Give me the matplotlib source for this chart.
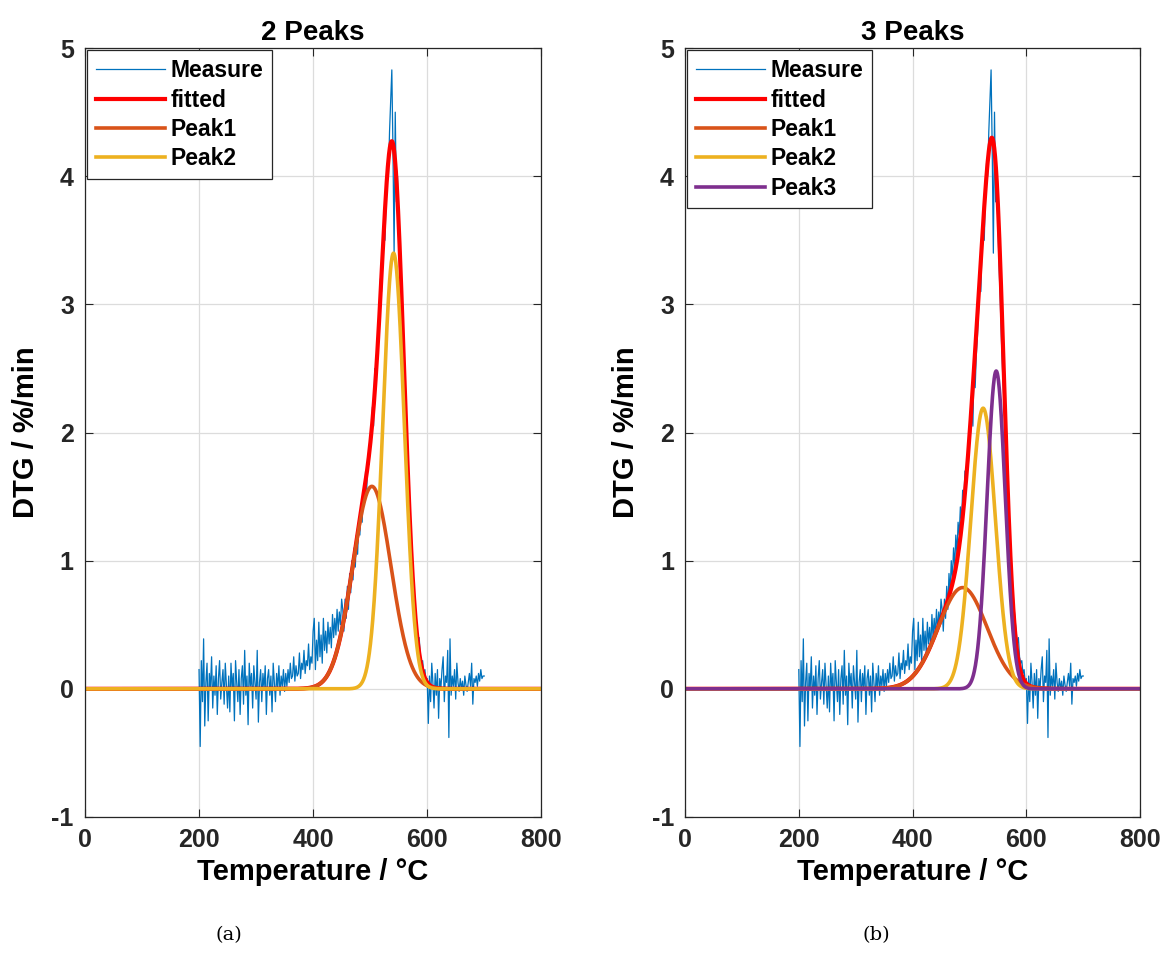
import numpy as np
import matplotlib
matplotlib.use("Agg")
import matplotlib.pyplot as plt

plt.rcParams['font.family'] = ['Liberation Sans', 'DejaVu Sans']
plt.rcParams['font.weight'] = 'bold'
plt.rcParams['axes.unicode_minus'] = False

temp_start = 200
temp_step = 2
measure = [
    # 200-250
    0.15, -0.45, 0.22, -0.1, 0.39, -0.29, 0.05, 0.2, -0.25, 0.12, 0.0, 0.25, -0.15,
    0.1, -0.05, 0.18, -0.2, 0.08, 0.22, -0.08, 0.05, 0.15, -0.12, 0.2, 0.02, -0.15,
    # 252-300
    0.1, -0.18, 0.2, 0.0, 0.12, -0.25, 0.22, 0.05, -0.1, 0.15, -0.2, 0.08, 0.18,
    -0.12, 0.3, -0.05, 0.1, -0.28, 0.2, 0.02, 0.12, -0.15, 0.18, 0.05, -0.08,
    # 302-350
    0.3, -0.26, 0.05, 0.15, -0.1, 0.12, 0.0, 0.18, -0.2, 0.08, 0.15, -0.05, 0.1,
    -0.18, 0.2, 0.05, -0.1, 0.12, 0.0, 0.18, -0.05, 0.1, 0.02, 0.15, -0.02,
    # 352-400
    0.12, 0.02, 0.15, 0.05, 0.2, 0.08, 0.1, 0.25, 0.06, 0.18, 0.1, 0.12, 0.28,
    0.08, 0.2, 0.15, 0.3, 0.12, 0.22, 0.18, 0.35, 0.15, 0.25, 0.2, 0.45,
    # 402-450
    0.55, 0.15, 0.38, 0.22, 0.52, 0.25, 0.42, 0.2, 0.55, 0.3, 0.45, 0.28, 0.52,
    0.35, 0.48, 0.32, 0.58, 0.4, 0.55, 0.42, 0.62, 0.45, 0.6, 0.5, 0.7,
    # 452-500
    0.62, 0.45, 0.7, 0.55, 0.8, 0.62, 0.9, 0.75, 1.0, 0.85, 1.1, 0.95, 1.2,
    1.05, 1.3, 1.2, 1.42, 1.3, 1.55, 1.45, 1.7, 1.55, 1.8, 1.75, 1.95,
    # 502-550
    2.0, 2.2, 2.05, 2.5, 2.35, 2.6, 2.75, 2.95, 3.2, 3.1, 3.45, 3.6, 3.5,
    3.85, 4.1, 4.0, 4.35, 4.6, 4.83, 4.2, 3.4, 4.5, 3.8, 4.0, 3.6,
    # 552-600
    3.3, 3.05, 2.75, 2.5, 2.3, 2.1, 1.9, 1.7, 1.45, 1.3, 1.1, 0.95, 0.8,
    0.65, 0.55, 0.45, 0.35, 0.4, 0.25, 0.2, 0.22, 0.12, 0.15, 0.05, 0.08,
    # 602-650
    -0.27, 0.1, -0.1, 0.2, 0.05, -0.15, 0.12, -0.05, 0.15, -0.23, 0.08, 0.0, 0.15,
    0.25, -0.1, 0.1, 0.05, 0.3, -0.38, 0.39, -0.05, 0.1, 0.02, 0.15, -0.08,
    # 652-700
    0.2, 0.05, -0.02, 0.08, 0.0, 0.06, -0.05, 0.1, 0.03, -0.02, 0.05, 0.12, 0.02,
    0.2, -0.12, 0.08, 0.05, 0.1, 0.02, 0.12, 0.06, 0.15, 0.08, 0.1, 0.1,
]

# fitted gaussian peaks: (centre degC, height %/min, sigma degC)
peaks_2 = [(503, 1.58, 33.5), (541, 3.40, 19.0)]
peaks_3 = [(488, 0.79, 43.0), (524, 2.19, 21.6), (547, 2.48, 16.0)]

titles = ['2 Peaks', '3 Peaks']
captions = ['(a)', '(b)']
peak_colors = ['#D95319', '#EDB120', '#7E2F8E']

t_meas = temp_start + temp_step * np.arange(len(measure))
t_fit = np.linspace(0, 800, 1601)


def gauss(t, c, h, s):
    return h * np.exp(-(t - c) ** 2 / (2 * s ** 2))


fig = plt.figure(figsize=(11.64, 9.72), dpi=100)
ax_pos = [[0.073, 0.1595, 0.392, 0.791], [0.5885, 0.1595, 0.391, 0.791]]
cap_x = [0.197, 0.753]

for k, peaks in enumerate([peaks_2, peaks_3]):
    ax = fig.add_axes(ax_pos[k])
    ax.plot(t_meas, measure, color='#0072BD', lw=0.9, label='Measure')
    comps = [gauss(t_fit, *p) for p in peaks]
    ax.plot(t_fit, np.sum(comps, axis=0), color='#FF0000', lw=3.0, label='fitted')
    for i, c in enumerate(comps):
        ax.plot(t_fit, c, color=peak_colors[i], lw=2.6, label='Peak%d' % (i + 1))

    ax.set_xlim(0, 800)
    ax.set_ylim(-1, 5)
    ax.set_xticks([0, 200, 400, 600, 800])
    ax.set_yticks([-1, 0, 1, 2, 3, 4, 5])
    ax.grid(True, color='#DCDCDC', lw=0.9)
    ax.set_axisbelow(True)
    ax.tick_params(direction='in', length=6, width=0.8, top=True, right=True,
                   labelsize=18, colors='#262626', pad=8)
    for sp in ax.spines.values():
        sp.set_color('#262626')
        sp.set_linewidth(0.9)
    ax.set_xlabel('Temperature / °C', fontsize=21, fontweight='bold', labelpad=4)
    ax.set_ylabel('DTG / %/min', fontsize=21, fontweight='bold', labelpad=8)
    ax.set_title(titles[k], fontsize=20, fontweight='bold', pad=6)
    leg = ax.legend(loc='upper left', borderaxespad=0.1, fontsize=16.5, handlelength=3.0,
                    fancybox=False, framealpha=1, edgecolor='#262626',
                    labelspacing=0.28, borderpad=0.38, handletextpad=0.25)
    leg.get_frame().set_linewidth(0.9)
    for txt in leg.get_texts():
        txt.set_fontweight('bold')
    fig.text(cap_x[k], 0.038, captions[k], fontsize=14, family='DejaVu Serif',
             fontweight='normal', ha='center', va='center')

fig.savefig('out.png', dpi=100)
